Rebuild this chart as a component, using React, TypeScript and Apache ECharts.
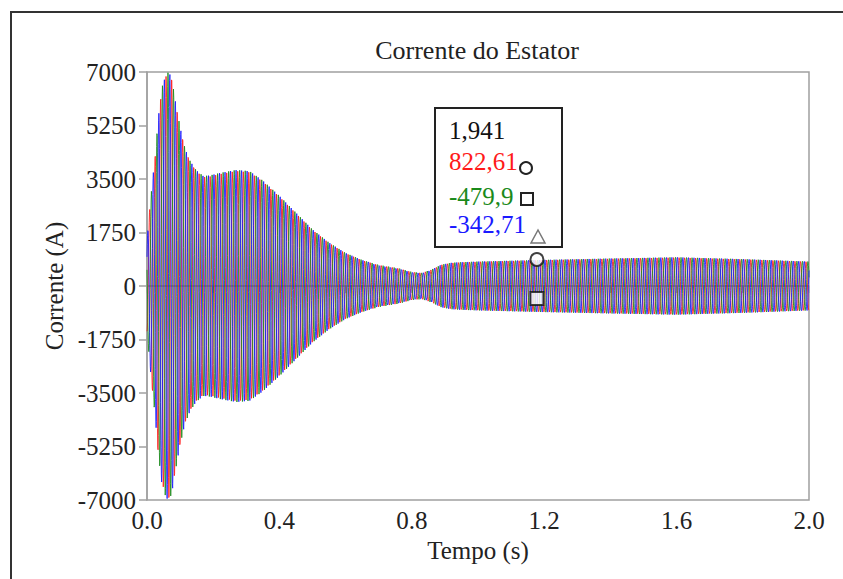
import React, { useEffect, useRef } from "react";
import * as echarts from "echarts";

// Envelope of the stator current (peak amplitude, A)
const ENV_TIME = [0, 0.008, 0.016, 0.025, 0.033, 0.045, 0.058, 0.066, 0.075, 0.085, 0.1, 0.115, 0.13, 0.148, 0.17, 0.19, 0.22, 0.27, 0.31, 0.35, 0.4, 0.45, 0.5, 0.55, 0.6, 0.65, 0.7, 0.76, 0.8, 0.83, 0.86, 0.89, 0.92, 0.95, 1.0, 1.18, 1.4, 1.6, 1.8, 2.0];
const ENV_AMP = [1500, 2500, 3400, 4300, 5400, 6500, 6950, 7000, 6800, 6100, 5200, 4500, 4100, 3800, 3600, 3620, 3700, 3800, 3760, 3450, 2950, 2400, 1850, 1420, 1080, 850, 690, 580, 460, 430, 540, 700, 760, 780, 800, 850, 900, 940, 880, 800];
const SUPPLY_FREQ_HZ = 60;
const PHASE_NAMES = ["Ia", "Ib", "Ic"];
const PHASE_COLORS = ["#ff1a1a", "#1a8a1a", "#1a1aff"];
const PHASE_SHIFT_DEG = [0, -120, 120];
const PHASE_REF_DEG = -170.6;

// Cursor read-out
const CURSOR_TIME = "1,941";
const CURSOR_VALUES = ["822,61", "-479,9", "-342,71"];
const MARKER_CIRCLE: [number, number][] = [[1.178, 867]];
const MARKER_SQUARE: [number, number][] = [[1.178, -409]];

const Y_TICKS = [-7000, 7000, 1750];
const X_TICKS = [0, 2, 0.2];

function envAt(t: number): number {
  for (let i = 1; i < ENV_TIME.length; i++) {
    if (t <= ENV_TIME[i]) {
      const f = (t - ENV_TIME[i - 1]) / (ENV_TIME[i] - ENV_TIME[i - 1]);
      return ENV_AMP[i - 1] + f * (ENV_AMP[i] - ENV_AMP[i - 1]);
    }
  }
  return ENV_AMP[ENV_AMP.length - 1];
}

function buildPhase(shiftDeg: number): [number, number][] {
  const out: [number, number][] = [];
  const step = 1 / (SUPPLY_FREQ_HZ * 20);
  const n = Math.round(2 / step);
  const ph = ((PHASE_REF_DEG + shiftDeg) * Math.PI) / 180;
  for (let i = 0; i <= n; i++) {
    const t = i * step;
    out.push([t, envAt(t) * Math.cos(2 * Math.PI * SUPPLY_FREQ_HZ * t + ph)]);
  }
  return out;
}

const FONT = '"Liberation Serif", "Times New Roman", serif';

export default function App() {
  const ref = useRef<HTMLDivElement>(null);
  useEffect(() => {
    if (!ref.current) return;
    const chart = echarts.init(ref.current, undefined, { renderer: "svg" });
    const lineSeries = PHASE_NAMES.map((name, i) => ({
      name,
      type: "line",
      data: buildPhase(PHASE_SHIFT_DEG[i]),
      showSymbol: false,
      symbol: "none",
      lineStyle: { color: PHASE_COLORS[i], width: 1, opacity: 0.85 },
      itemStyle: { color: PHASE_COLORS[i] },
      silent: true,
      z: 2 + i,
    }));
    const markerStyle = { color: "#fff", borderColor: "#111", borderWidth: 2 };
    chart.setOption({
      animation: false,
      grid: { left: 147, right: 34, top: 72, bottom: 79, show: true, borderColor: "#a0a0a0", borderWidth: 1.5, backgroundColor: "transparent" },
      xAxis: {
        type: "value",
        min: X_TICKS[0],
        max: X_TICKS[1],
        interval: X_TICKS[2],
        name: "Tempo (s)",
        nameLocation: "middle",
        nameGap: 34,
        nameTextStyle: { fontFamily: FONT, fontSize: 25, color: "#222" },
        axisLine: { show: true, lineStyle: { color: "#a0a0a0", width: 1.5 } },
        axisTick: { show: true, length: 7, lineStyle: { color: "#a0a0a0", width: 1.5 } },
        axisLabel: {
          fontFamily: FONT,
          fontSize: 25,
          color: "#222",
          margin: 8,
          showMaxLabel: true,
          formatter: (v: number) => (Math.round(v * 10) % 4 === 0 ? v.toFixed(1) : ""),
        },
        splitLine: { show: false },
      },
      yAxis: {
        type: "value",
        min: Y_TICKS[0],
        max: Y_TICKS[1],
        interval: Y_TICKS[2],
        name: "Corrente (A)",
        nameLocation: "middle",
        nameGap: 62,
        nameTextStyle: { fontFamily: FONT, fontSize: 25, color: "#222" },
        axisLine: { show: true, lineStyle: { color: "#a0a0a0", width: 1.5 } },
        axisTick: { show: true, length: 8, lineStyle: { color: "#a0a0a0", width: 1.5 } },
        axisLabel: { fontFamily: FONT, fontSize: 25, color: "#222", margin: 11, formatter: (v: number) => String(v) },
        splitLine: { show: false },
      },
      series: [
        ...lineSeries,
        {
          name: "cursor-circle",
          type: "scatter",
          data: MARKER_CIRCLE,
          symbol: "circle",
          symbolSize: 13,
          itemStyle: markerStyle,
          z: 10,
        },
        {
          name: "cursor-square",
          type: "scatter",
          data: MARKER_SQUARE,
          symbol: "rect",
          symbolSize: 13,
          itemStyle: markerStyle,
          z: 10,
        },
      ],
      graphic: [
        { type: "rect", shape: { x: 11, y: 12, width: 1000, height: 1000 }, style: { fill: "none", stroke: "#333", lineWidth: 2 }, silent: true },
        {
          type: "text",
          x: 477,
          y: 50,
          style: { text: "Corrente do Estator", fill: "#222", font: `26px ${FONT}`, align: "center", verticalAlign: "middle" },
        },
        { type: "rect", shape: { x: 435, y: 108, width: 127, height: 139 }, style: { fill: "#fff", stroke: "#222", lineWidth: 2 }, z: 20 },
        { type: "text", x: 449, y: 130, style: { text: CURSOR_TIME, fill: "#111", font: `25px ${FONT}`, align: "left", verticalAlign: "middle" }, z: 21 },
        { type: "text", x: 449, y: 161, style: { text: CURSOR_VALUES[0], fill: PHASE_COLORS[0], font: `25px ${FONT}`, align: "left", verticalAlign: "middle" }, z: 21 },
        { type: "text", x: 449, y: 196, style: { text: CURSOR_VALUES[1], fill: PHASE_COLORS[1], font: `25px ${FONT}`, align: "left", verticalAlign: "middle" }, z: 21 },
        { type: "text", x: 449, y: 224, style: { text: CURSOR_VALUES[2], fill: PHASE_COLORS[2], font: `25px ${FONT}`, align: "left", verticalAlign: "middle" }, z: 21 },
        { type: "circle", shape: { cx: 526, cy: 168, r: 6 }, style: { fill: "#fff", stroke: "#222", lineWidth: 2 }, z: 22 },
        { type: "rect", shape: { x: 521, y: 193, width: 12, height: 12 }, style: { fill: "#fff", stroke: "#222", lineWidth: 2 }, z: 22 },
        { type: "polygon", shape: { points: [[538, 230], [531, 243], [545, 243]] }, style: { fill: "#fff", stroke: "#777", lineWidth: 1.5 }, z: 22 },
      ],
    });
    return () => chart.dispose();
  }, []);
  return <div ref={ref} style={{ width: 843, height: 579, position: "absolute", left: 0, top: 0 }} />;
}
